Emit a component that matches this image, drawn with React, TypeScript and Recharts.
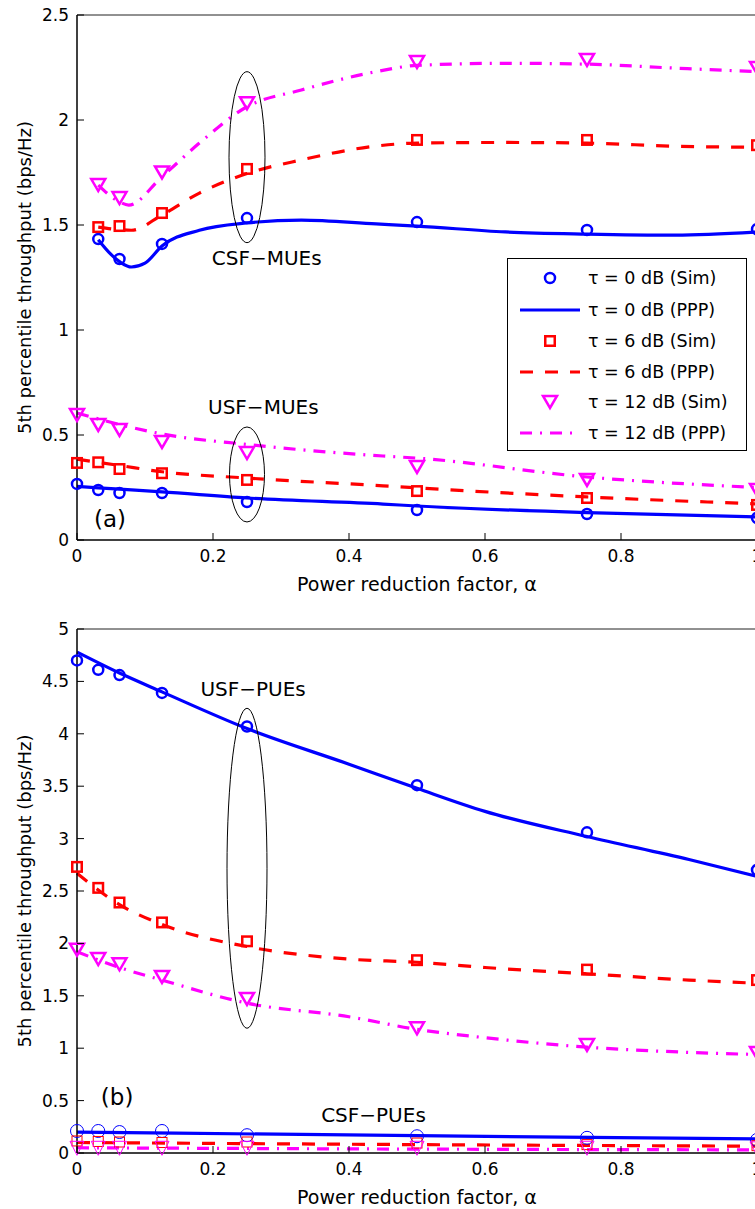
import { ComposedChart, Line, XAxis, YAxis, ReferenceDot } from 'recharts';

const FONT = '"DejaVu Sans", Verdana, sans-serif';
const BLUE = '#0000ff';
const RED = '#ff0000';
const MAGENTA = '#ff00ff';
const RED_DASH = '13 12';
const MAG_DASH = '12 8 2 8';

// alpha values where the simulations were run
const ALPHA_SIM = [0, 0.03125, 0.0625, 0.125, 0.25, 0.5, 0.75, 1];
const ALPHA_SIM_CSF_MUE = [0.03125, 0.0625, 0.125, 0.25, 0.5, 0.75, 1];
const X_TICKS = [0, 0.2, 0.4, 0.6, 0.8, 1];
const Y_TICKS_A = [0, 0.5, 1, 1.5, 2, 2.5];
const Y_TICKS_B = [0, 0.5, 1, 1.5, 2, 2.5, 3, 3.5, 4, 4.5, 5];

const LEGEND_NAMES = [
  'τ = 0 dB (Sim)',
  'τ = 0 dB (PPP)',
  'τ = 6 dB (Sim)',
  'τ = 6 dB (PPP)',
  'τ = 12 dB (Sim)',
  'τ = 12 dB (PPP)',
];

// (a) CSF-MUEs
const CSF_MUE_SIM_0 = [1.433, 1.338, 1.41, 1.533, 1.514, 1.476, 1.48];
const CSF_MUE_SIM_6 = [1.49, 1.495, 1.557, 1.767, 1.905, 1.905, 1.88];
const CSF_MUE_SIM_12 = [1.69, 1.628, 1.75, 2.08, 2.276, 2.286, 2.248];
const CSF_MUE_PPP_X_0 = [0.03125, 0.05, 0.065, 0.08, 0.1, 0.125, 0.18, 0.25, 0.33, 0.44, 0.5, 0.63, 0.75, 0.88, 1];
const CSF_MUE_PPP_0 = [1.43, 1.36, 1.32, 1.3, 1.318, 1.4, 1.475, 1.51, 1.523, 1.505, 1.495, 1.467, 1.457, 1.452, 1.467];
const CSF_MUE_PPP_X_6 = [0.03125, 0.0625, 0.08, 0.125, 0.18, 0.25, 0.33, 0.44, 0.5, 0.63, 0.75, 0.88, 1];
const CSF_MUE_PPP_6 = [1.49, 1.478, 1.475, 1.548, 1.652, 1.745, 1.81, 1.876, 1.89, 1.893, 1.89, 1.875, 1.87];
const CSF_MUE_PPP_X_12 = [0.03125, 0.0625, 0.076, 0.125, 0.18, 0.25, 0.33, 0.44, 0.5, 0.63, 0.75, 0.88, 1];
const CSF_MUE_PPP_12 = [1.69, 1.61, 1.595, 1.73, 1.89, 2.063, 2.143, 2.23, 2.26, 2.27, 2.266, 2.247, 2.23];

// (a) USF-MUEs
const USF_MUE_SIM_0 = [0.267, 0.238, 0.224, 0.224, 0.181, 0.143, 0.124, 0.105];
const USF_MUE_SIM_6 = [0.367, 0.37, 0.338, 0.318, 0.286, 0.233, 0.2, 0.167];
const USF_MUE_SIM_12 = [0.595, 0.548, 0.524, 0.467, 0.414, 0.348, 0.286, 0.238];
const USF_MUE_PPP_X = [0, 0.0625, 0.125, 0.25, 0.45, 0.5, 0.75, 1];
const USF_MUE_PPP_0 = [0.255, 0.242, 0.229, 0.2, 0.171, 0.162, 0.13, 0.11];
const USF_MUE_PPP_6 = [0.385, 0.355, 0.325, 0.295, 0.258, 0.248, 0.205, 0.172];
const USF_MUE_PPP_12 = [0.605, 0.55, 0.505, 0.455, 0.4, 0.39, 0.3, 0.25];

// (b) USF-PUEs
const USF_PUE_SIM_0 = [4.7, 4.61, 4.56, 4.39, 4.07, 3.51, 3.06, 2.7];
const USF_PUE_SIM_6 = [2.73, 2.53, 2.39, 2.2, 2.02, 1.84, 1.75, 1.65];
const USF_PUE_SIM_12 = [1.94, 1.85, 1.8, 1.68, 1.47, 1.19, 1.03, 0.955];
const USF_PUE_PPP_X = [0, 0.0625, 0.125, 0.25, 0.4, 0.5, 0.6, 0.75, 0.9, 1];
const USF_PUE_PPP_0 = [4.78, 4.58, 4.4, 4.05, 3.71, 3.48, 3.26, 3.02, 2.8, 2.64];
const USF_PUE_PPP_6 = [2.67, 2.37, 2.18, 1.97, 1.85, 1.82, 1.77, 1.71, 1.65, 1.62];
const USF_PUE_PPP_12 = [1.92, 1.77, 1.65, 1.43, 1.3, 1.18, 1.1, 1.01, 0.96, 0.94];

// (b) CSF-PUEs
const CSF_PUE_SIM_0 = [0.21, 0.21, 0.2, 0.21, 0.17, 0.16, 0.145, 0.125];
const CSF_PUE_SIM_6 = [0.115, 0.11, 0.105, 0.1, 0.105, 0.095, 0.08, 0.07];
const CSF_PUE_SIM_12 = [0.045, 0.045, 0.045, 0.045, 0.045, 0.045, 0.045, 0.04];
const CSF_PUE_PPP_X = [0, 0.5, 1];
const CSF_PUE_PPP_0 = [0.2, 0.165, 0.135];
const CSF_PUE_PPP_6 = [0.1, 0.08, 0.065];
const CSF_PUE_PPP_12 = [0.05, 0.037, 0.03];

type Pt = { x: number; y: number };
const pts = (xs: number[], ys: number[]): Pt[] => xs.map((x, i) => ({ x, y: ys[i] }));

type Marker = 'circle' | 'square' | 'triangle';

const drawMarker = (kind: Marker, color: string, thin = false) => (p: any) => {
  const { cx, cy, index } = p;
  if (cx == null || cy == null) return <g key={index} />;
  const sw = thin ? 1 : 2.5;
  if (kind === 'circle') {
    const r = thin ? 6.5 : 5;
    return <circle key={index} cx={cx} cy={cy} r={r} fill="none" stroke={color} strokeWidth={sw} />;
  }
  if (kind === 'square') {
    const s = thin ? 10 : 9.5;
    return <rect key={index} x={cx - s / 2} y={cy - s / 2} width={s} height={s} fill="none" stroke={color} strokeWidth={sw} />;
  }
  const w = thin ? 14 : 14;
  const h = thin ? 14 : 12;
  return (
    <polygon
      key={index}
      points={`${cx - w / 2},${cy - h / 2} ${cx + w / 2},${cy - h / 2} ${cx},${cy + h / 2}`}
      fill="none"
      stroke={color}
      strokeWidth={sw}
      strokeLinejoin="miter"
    />
  );
};

const BottomTick = (p: any) => (
  <g>
    <line x1={p.x} x2={p.x} y1={p.y} y2={p.y - 7} stroke="#000" strokeWidth={1} />
    <text x={p.x} y={p.y + 22} textAnchor="middle" fontSize={17} fontFamily={FONT} fill="#000">
      {String(p.payload.value)}
    </text>
  </g>
);
const TopTick = (p: any) => <line x1={p.x} x2={p.x} y1={p.y} y2={p.y + 7} stroke="#000" strokeWidth={1} />;
const LeftTick = (p: any) => (
  <g>
    <line x1={p.x} x2={p.x + 7} y1={p.y} y2={p.y} stroke="#000" strokeWidth={1} />
    <text x={p.x - 8} y={p.y + 6} textAnchor="end" fontSize={17} fontFamily={FONT} fill="#000">
      {String(p.payload.value)}
    </text>
  </g>
);
const RightTick = (p: any) => <line x1={p.x} x2={p.x - 7} y1={p.y} y2={p.y} stroke="#000" strokeWidth={1} />;

type Note = { x: number; y: number; text: string; size: number };
type Ring = { x: number; y: number; rx: number; ry: number };

type PanelProps = {
  top: number;
  height: number;
  marginTop: number;
  xAxisHeight: number;
  yMax: number;
  yTicks: number[];
  sims: { data: Pt[]; marker: Marker; color: string; thin?: boolean }[];
  lines: { data: Pt[]; color: string; dash?: string }[];
  notes: Note[];
  rings: Ring[];
};

const Panel = ({ top, height, marginTop, xAxisHeight, yMax, yTicks, sims, lines, notes, rings }: PanelProps) => (
  <div style={{ position: 'absolute', left: 0, top }}>
    <ComposedChart width={770} height={height} margin={{ top: marginTop, right: 12, bottom: 0, left: 0 }}>
      <XAxis
        xAxisId="b"
        dataKey="x"
        type="number"
        domain={[0, 1]}
        ticks={X_TICKS}
        height={xAxisHeight}
        tickSize={0}
        tickMargin={0}
        tickLine={false}
        axisLine={{ stroke: '#000', strokeWidth: 1.5 }}
        tick={BottomTick}
        label={{
          content: (lp: any) => (
            <text
              x={lp.viewBox.x + lp.viewBox.width / 2}
              y={lp.viewBox.y + 51}
              textAnchor="middle"
              fontSize={19}
              fontFamily={FONT}
              fill="#000"
            >
              Power reduction factor, α
            </text>
          ),
        }}
      />
      <XAxis
        xAxisId="t"
        orientation="top"
        dataKey="x"
        type="number"
        domain={[0, 1]}
        ticks={X_TICKS}
        height={1}
        tickSize={0}
        tickMargin={0}
        tickLine={false}
        axisLine={{ stroke: '#222', strokeWidth: 1 }}
        tick={TopTick}
      />
      <YAxis
        yAxisId="l"
        dataKey="y"
        type="number"
        domain={[0, yMax]}
        ticks={yTicks}
        width={77}
        tickSize={0}
        tickMargin={0}
        tickLine={false}
        axisLine={{ stroke: '#000', strokeWidth: 1.5 }}
        tick={LeftTick}
        label={{
          content: (lp: any) => {
            const cx = 24;
            const cy = lp.viewBox.y + lp.viewBox.height / 2;
            return (
              <text
                x={cx}
                y={cy}
                transform={`rotate(-90 ${cx} ${cy})`}
                textAnchor="middle"
                dominantBaseline="central"
                fontSize={18}
                fontFamily={FONT}
                fill="#000"
              >
                5th percentile throughput (bps/Hz)
              </text>
            );
          },
        }}
      />
      <YAxis
        yAxisId="r"
        orientation="right"
        dataKey="y"
        type="number"
        domain={[0, yMax]}
        ticks={yTicks}
        width={1}
        tickSize={0}
        tickMargin={0}
        tickLine={false}
        axisLine={{ stroke: '#222', strokeWidth: 1 }}
        tick={RightTick}
      />
      {rings.map((r, i) => (
        <ReferenceDot
          key={`ring${i}`}
          xAxisId="b"
          yAxisId="l"
          x={r.x}
          y={r.y}
          r={1}
          shape={(sp: any) => (
            <ellipse cx={sp.cx} cy={sp.cy} rx={r.rx} ry={r.ry} fill="none" stroke="#000" strokeWidth={1} />
          )}
        />
      ))}
      {lines.map((l, i) => (
        <Line
          key={`ppp${i}`}
          xAxisId="b"
          yAxisId="l"
          data={l.data}
          dataKey="y"
          type="monotone"
          stroke={l.color}
          strokeWidth={3.2}
          strokeDasharray={l.dash}
          dot={false}
          activeDot={false}
          isAnimationActive={false}
        />
      ))}
      {sims.map((s, i) => (
        <Line
          key={`sim${i}`}
          xAxisId="b"
          yAxisId="l"
          data={s.data}
          dataKey="y"
          stroke="none"
          strokeWidth={0}
          dot={drawMarker(s.marker, s.color, s.thin)}
          activeDot={false}
          isAnimationActive={false}
        />
      ))}
      {notes.map((n, i) => (
        <ReferenceDot
          key={`note${i}`}
          xAxisId="b"
          yAxisId="l"
          x={n.x}
          y={n.y}
          r={1}
          shape={(sp: any) => (
            <text x={sp.cx} y={sp.cy} textAnchor="middle" fontSize={n.size} fontFamily={FONT} fill="#000">
              {n.text}
            </text>
          )}
        />
      ))}
    </ComposedChart>
  </div>
);

const LEGEND_STYLE = [
  { color: BLUE, marker: 'circle' as Marker },
  { color: BLUE },
  { color: RED, marker: 'square' as Marker },
  { color: RED, dash: RED_DASH },
  { color: MAGENTA, marker: 'triangle' as Marker },
  { color: MAGENTA, dash: MAG_DASH },
];
const LEGEND_ROWS = [20, 52, 83, 114, 144, 175];

const LegendBox = () => (
  <div style={{ position: 'absolute', left: 507, top: 258, width: 240, height: 193 }}>
    <svg width={240} height={193}>
      <rect x={0.5} y={0.5} width={239} height={192} fill="#fff" stroke="#000" strokeWidth={1} />
      {LEGEND_NAMES.map((name, i) => {
        const st = LEGEND_STYLE[i];
        const y = LEGEND_ROWS[i];
        return (
          <g key={name}>
            {st.marker
              ? drawMarker(st.marker, st.color)({ cx: 43, cy: y, index: i })
              : <line x1={13} x2={73} y1={y} y2={y} stroke={st.color} strokeWidth={3.2} strokeDasharray={st.dash} />}
            <text x={81} y={y + 6} fontSize={17.5} fontFamily={FONT} fill="#000">
              {name}
            </text>
          </g>
        );
      })}
    </svg>
  </div>
);

export default function App() {
  return (
    <div style={{ position: 'absolute', left: 0, top: 0, width: 755, height: 1209, overflow: 'hidden', background: '#fff' }}>
      <Panel
        top={0}
        height={600}
        marginTop={14}
        xAxisHeight={60}
        yMax={2.5}
        yTicks={Y_TICKS_A}
        lines={[
          { data: pts(CSF_MUE_PPP_X_0, CSF_MUE_PPP_0), color: BLUE },
          { data: pts(CSF_MUE_PPP_X_6, CSF_MUE_PPP_6), color: RED, dash: RED_DASH },
          { data: pts(CSF_MUE_PPP_X_12, CSF_MUE_PPP_12), color: MAGENTA, dash: MAG_DASH },
          { data: pts(USF_MUE_PPP_X, USF_MUE_PPP_0), color: BLUE },
          { data: pts(USF_MUE_PPP_X, USF_MUE_PPP_6), color: RED, dash: RED_DASH },
          { data: pts(USF_MUE_PPP_X, USF_MUE_PPP_12), color: MAGENTA, dash: MAG_DASH },
        ]}
        sims={[
          { data: pts(ALPHA_SIM_CSF_MUE, CSF_MUE_SIM_0), marker: 'circle', color: BLUE },
          { data: pts(ALPHA_SIM_CSF_MUE, CSF_MUE_SIM_6), marker: 'square', color: RED },
          { data: pts(ALPHA_SIM_CSF_MUE, CSF_MUE_SIM_12), marker: 'triangle', color: MAGENTA },
          { data: pts(ALPHA_SIM, USF_MUE_SIM_0), marker: 'circle', color: BLUE },
          { data: pts(ALPHA_SIM, USF_MUE_SIM_6), marker: 'square', color: RED },
          { data: pts(ALPHA_SIM, USF_MUE_SIM_12), marker: 'triangle', color: MAGENTA },
        ]}
        rings={[
          { x: 0.25, y: 1.823, rx: 18, ry: 85.5 },
          { x: 0.25, y: 0.312, rx: 17.5, ry: 47.5 },
        ]}
        notes={[
          { x: 0.279, y: 1.31, text: 'CSF−MUEs', size: 20 },
          { x: 0.274, y: 0.6, text: 'USF−MUEs', size: 20 },
          { x: 0.0485, y: 0.062, text: '(a)', size: 23 },
        ]}
      />
      <Panel
        top={600}
        height={609}
        marginTop={28}
        xAxisHeight={56}
        yMax={5}
        yTicks={Y_TICKS_B}
        lines={[
          { data: pts(USF_PUE_PPP_X, USF_PUE_PPP_0), color: BLUE },
          { data: pts(USF_PUE_PPP_X, USF_PUE_PPP_6), color: RED, dash: RED_DASH },
          { data: pts(USF_PUE_PPP_X, USF_PUE_PPP_12), color: MAGENTA, dash: MAG_DASH },
          { data: pts(CSF_PUE_PPP_X, CSF_PUE_PPP_0), color: BLUE },
          { data: pts(CSF_PUE_PPP_X, CSF_PUE_PPP_6), color: RED, dash: RED_DASH },
          { data: pts(CSF_PUE_PPP_X, CSF_PUE_PPP_12), color: MAGENTA, dash: MAG_DASH },
        ]}
        sims={[
          { data: pts(ALPHA_SIM, USF_PUE_SIM_0), marker: 'circle', color: BLUE },
          { data: pts(ALPHA_SIM, USF_PUE_SIM_6), marker: 'square', color: RED },
          { data: pts(ALPHA_SIM, USF_PUE_SIM_12), marker: 'triangle', color: MAGENTA },
          { data: pts(ALPHA_SIM, CSF_PUE_SIM_0), marker: 'circle', color: BLUE, thin: true },
          { data: pts(ALPHA_SIM, CSF_PUE_SIM_6), marker: 'square', color: RED, thin: true },
          { data: pts(ALPHA_SIM, CSF_PUE_SIM_12), marker: 'triangle', color: MAGENTA, thin: true },
        ]}
        rings={[{ x: 0.25, y: 2.717, rx: 20, ry: 160 }]}
        notes={[
          { x: 0.259, y: 4.365, text: 'USF−PUEs', size: 20 },
          { x: 0.059, y: 0.46, text: '(b)', size: 23 },
          { x: 0.436, y: 0.296, text: 'CSF−PUEs', size: 20 },
        ]}
      />
      <LegendBox />
    </div>
  );
}
